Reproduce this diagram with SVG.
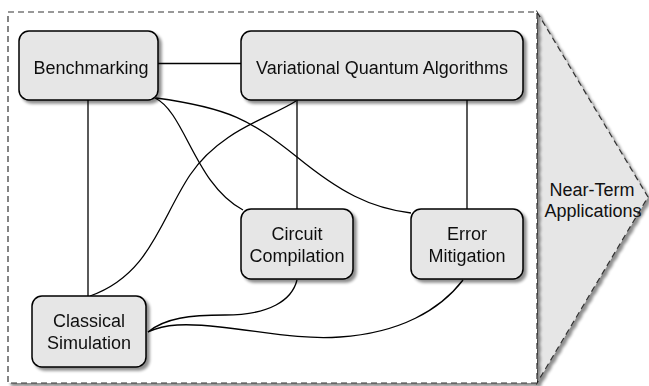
<svg xmlns="http://www.w3.org/2000/svg" width="649" height="386" viewBox="0 0 649 386">
<defs>
<filter id="sh" x="-10%" y="-10%" width="130%" height="130%">
<feGaussianBlur in="SourceAlpha" stdDeviation="1.5"/>
<feOffset dx="3" dy="3" result="o"/>
<feComponentTransfer><feFuncA type="linear" slope="0.45"/></feComponentTransfer>
<feMerge><feMergeNode/><feMergeNode in="SourceGraphic"/></feMerge>
</filter>
<style>
.node rect{fill:#e6e6e6;stroke:#000;stroke-width:1.5}
text{font-family:"Liberation Sans",Arial,sans-serif;font-size:18px;fill:#111;text-anchor:middle}
.conn path,.conn line{fill:none;stroke:#000;stroke-width:1.3}
.dash{stroke:#333;stroke-width:1.2;stroke-dasharray:6 4}
</style>
</defs>
<rect width="649" height="386" fill="#fff"/>
<g id="container">
<polygon points="537,12 648,197 537,383" fill="#e6e6e6" class="dash" filter="url(#sh)"/>
<rect x="8" y="12" width="529" height="371" fill="#fff" class="dash" filter="url(#sh)"/>
<text x="592" y="196">Near-Term</text>
<text x="593" y="217">Applications</text>
</g>
<g class="conn" id="connectors">
<line x1="158" y1="63.5" x2="241" y2="63.5"/>
<line x1="88" y1="100" x2="88" y2="296"/>
<line x1="297" y1="100" x2="297" y2="209"/>
<line x1="467" y1="100" x2="467" y2="209"/>
<path d="M155,98 C185,112 195,185 243,210"/>
<path d="M156,98 C230,108 250,120 297,157 C340,192 370,208 411,213"/>
<path d="M296,101 C270,118 220,130 190,175 C160,220 150,275 90,296"/>
<path d="M148,332 C165,318 190,315 225,315 C270,315 292,300 297,280"/>
<path d="M148,332 C165,324 185,323 220,327 C260,331 300,340 340,337 C400,333 440,310 463,280"/>
</g>
<g id="benchmarking" class="node" filter="url(#sh)">
<rect x="19" y="31" width="139" height="69" rx="10"/>
<text x="91" y="74">Benchmarking</text>
</g>
<g id="vqa" class="node" filter="url(#sh)">
<rect x="241" y="31" width="282" height="69" rx="10"/>
<text x="382" y="74">Variational Quantum Algorithms</text>
</g>
<g id="circuit-compilation" class="node" filter="url(#sh)">
<rect x="241" y="209" width="112" height="70" rx="10"/>
<text x="297" y="240">Circuit</text>
<text x="297" y="262">Compilation</text>
</g>
<g id="error-mitigation" class="node" filter="url(#sh)">
<rect x="411" y="209" width="112" height="70" rx="10"/>
<text x="467" y="240">Error</text>
<text x="467" y="262">Mitigation</text>
</g>
<g id="classical-simulation" class="node" filter="url(#sh)">
<rect x="32" y="296" width="114" height="71" rx="10"/>
<text x="89" y="327">Classical</text>
<text x="89" y="349">Simulation</text>
</g>
</svg>
